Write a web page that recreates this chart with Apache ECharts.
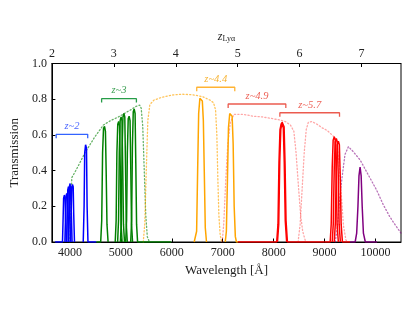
<!DOCTYPE html>
<html><head><meta charset="utf-8">
<script src="https://cdn.jsdelivr.net/npm/echarts@6/dist/echarts.min.js"></script>
<style>html,body{margin:0;padding:0;background:#fff}#c{width:415px;height:312px}</style>
</head><body><div id="c"></div><script>
const LYA = 1215.67;
const LAM_MIN = 3647, LAM_MAX = 10500;
const xTicks = [4000,5000,6000,7000,8000,9000,10000];
const zTicks = [2,3,4,5,6,7];

// narrow-band filters (wavelength, transmission)
const blue1 = [[3710,0],[3855,0],[3867,0.13],[3877,0.245],[3892,0.263],[3906,0.25],[3916,0.13],[3930,0]];
const blue2 = [[3902,0],[3914,0.13],[3924,0.255],[3938,0.272],[3952,0.26],[3962,0.13],[3976,0]];
const blue3 = [[3936,0],[3948,0.15],[3958,0.29],[3972,0.31],[3986,0.298],[3996,0.15],[4010,0]];
const blue4 = [[3968,0],[3980,0.16],[3990,0.31],[4005,0.328],[4019,0.318],[4029,0.16],[4043,0]];
const blue5 = [[4014,0],[4026,0.16],[4036,0.305],[4051,0.322],[4065,0.31],[4075,0.16],[4090,0]];
const blue6 = [[4262,0],[4279,0.2],[4291,0.5],[4308,0.545],[4326,0.525],[4338,0.2],[4355,0],[4520,0]];

const green1 = [[4520,0],[4605,0],[4625,0.12],[4642,0.5],[4660,0.635],[4680,0.648],[4698,0.62],[4712,0.4],[4728,0.1],[4750,0]];
const green2 = [[4890,0],[4908,0.12],[4923,0.5],[4940,0.66],[4958,0.675],[4976,0.65],[4990,0.4],[5005,0.1],[5025,0]];
const green3 = [[4937,0],[4955,0.12],[4970,0.5],[4987,0.68],[5005,0.70],[5023,0.68],[5037,0.42],[5052,0.1],[5072,0]];
const green4 = [[4992,0],[5010,0.12],[5025,0.52],[5042,0.70],[5060,0.72],[5078,0.70],[5092,0.43],[5107,0.1],[5127,0]];
const green5 = [[5095,0],[5113,0.12],[5128,0.5],[5145,0.69],[5163,0.705],[5181,0.68],[5195,0.42],[5210,0.1],[5230,0]];
const green6 = [[5194,0],[5212,0.12],[5227,0.53],[5244,0.73],[5262,0.745],[5280,0.72],[5294,0.44],[5309,0.1],[5329,0],[5990,0]];

const orange1 = [[6440,0],[6465,0],[6488,0.06],[6508,0.4],[6528,0.72],[6552,0.805],[6575,0.815],[6600,0.79],[6620,0.68],[6638,0.4],[6658,0.08],[6682,0]];
const orange2 = [[7050,0],[7072,0.06],[7093,0.35],[7113,0.64],[7138,0.72],[7160,0.73],[7185,0.705],[7205,0.55],[7225,0.2],[7248,0.03],[7270,0],[7300,0]];

const red1 = [[7300,0],[8060,0],[8085,0.1],[8105,0.45],[8125,0.63],[8150,0.665],[8170,0.67],[8190,0.64],[8208,0.45],[8228,0.12],[8255,0]];
const red2 = [[8075,0],[8100,0.1],[8120,0.45],[8140,0.63],[8165,0.672],[8185,0.675],[8205,0.645],[8223,0.45],[8243,0.12],[8270,0],[9000,0]];
const red3 = [[9000,0],[9110,0],[9130,0.1],[9150,0.42],[9168,0.57],[9190,0.59],[9210,0.57],[9226,0.4],[9245,0.1],[9270,0]];
const red4 = [[9150,0],[9170,0.1],[9190,0.42],[9208,0.56],[9230,0.58],[9250,0.56],[9266,0.4],[9285,0.1],[9310,0]];
const red5 = [[9190,0],[9210,0.1],[9230,0.4],[9248,0.545],[9270,0.565],[9290,0.545],[9306,0.38],[9325,0.1],[9350,0],[9500,0]];

const purple1 = [[9500,0],[9600,0],[9630,0.05],[9655,0.2],[9675,0.37],[9697,0.42],[9718,0.37],[9738,0.2],[9762,0.05],[9800,0],[10030,0]];

// broad-band filters (dotted)
const greenBroad = [[4000,0],[4020,0.15],[4037,0.36],[4135,0.41],[4297,0.50],[4492,0.59],[4656,0.655],[4800,0.68],[4949,0.70],[5100,0.725],[5209,0.743],[5300,0.76],[5370,0.767],[5400,0.75],[5430,0.65],[5460,0.4],[5490,0.15],[5520,0.03],[5560,0]];
const orangeBroad = [[5440,0],[5470,0.1],[5500,0.4],[5530,0.68],[5570,0.77],[5650,0.795],[5800,0.81],[6000,0.823],[6200,0.828],[6400,0.825],[6600,0.815],[6750,0.795],[6820,0.78],[6860,0.74],[6885,0.6],[6905,0.35],[6925,0.15],[6950,0.04],[6980,0]];
const redBroad1 = [[6990,0],[7020,0.1],[7060,0.35],[7100,0.55],[7150,0.67],[7220,0.715],[7400,0.715],[7600,0.705],[7800,0.70],[8000,0.69],[8136,0.683],[8233,0.674],[8330,0.655],[8397,0.62],[8440,0.5],[8490,0.3],[8530,0.15],[8570,0.06],[8630,0]];
const redBroad2 = [[8480,0],[8520,0.1],[8560,0.3],[8600,0.5],[8640,0.63],[8680,0.67],[8750,0.675],[8850,0.66],[8950,0.64],[9050,0.625],[9144,0.60],[9200,0.585],[9242,0.555],[9280,0.45],[9320,0.3],[9371,0.09],[9420,0.01],[9460,0]];
const purpleBroad = [[9209,0],[9250,0.08],[9300,0.25],[9342,0.36],[9400,0.49],[9468,0.534],[9550,0.51],[9697,0.46],[9850,0.38],[10023,0.29],[10150,0.21],[10283,0.14],[10400,0.09],[10478,0.058],[10500,0.05]];

// redshift brackets
const bracketLabels = ['z~2','z~3','z~4.4','z~4.9','z~5.7'];
const bracketStart = [3731,4623,6490,7107,8122];
const bracketEnd   = [4350,5306,7237,8239,9293];
const bracketLevel = [0.603,0.803,0.867,0.773,0.724];
const bracketColors = ['rgba(0,60,255,0.8)','rgba(0,140,40,0.85)','rgba(255,160,0,0.8)','rgba(230,50,35,0.8)','rgba(230,50,35,0.8)'];
const bracketTextColors = ['#1a3cff','#0e8a2a','#f5a000','#e8382a','#e8382a'];

const SERIF = '"Liberation Serif","Times New Roman",serif';
const series = [];
function addLine(data, color, dotted, w){
  series.push({type:'line', data:data, showSymbol:false, silent:true, animation:false,
    xAxisIndex:0, yAxisIndex:0, z: dotted?2:3,
    lineStyle:{color:color, width:w, type: dotted?[1.2,2.2]:'solid', cap: dotted?'round':'butt'}});
}
[[greenBroad,'rgba(0,128,0,0.6)'],[orangeBroad,'rgba(255,165,0,0.65)'],[redBroad1,'rgba(255,0,0,0.35)'],[redBroad2,'rgba(255,0,0,0.35)'],[purpleBroad,'rgba(128,0,128,0.55)']]
  .forEach(p=>addLine(p[0],p[1],true,1.3));
[blue1,blue2,blue3,blue4,blue5,blue6].forEach(d=>addLine(d,'#0000ff',false,1.5));
[green1,green2,green3,green4,green5,green6].forEach(d=>addLine(d,'#008000',false,1.5));
[orange1,orange2].forEach(d=>addLine(d,'#ffa500',false,1.5));
[red1,red2,red3,red4,red5].forEach(d=>addLine(d,'#ff0000',false,1.5));
[purple1].forEach(d=>addLine(d,'#800080',false,1.5));

const TICKH = 0.022;
bracketLabels.forEach((lab,i)=>{
  const y = bracketLevel[i];
  series.push({type:'line', data:[[bracketStart[i],y-TICKH],[bracketStart[i],y],[bracketEnd[i],y],[bracketEnd[i],y-TICKH]],
    showSymbol:false, silent:true, animation:false, z:4,
    lineStyle:{color:bracketColors[i], width:1.3}});
  series.push({type:'scatter', data:[[(bracketStart[i]+bracketEnd[i])/2, y]], symbolSize:1, silent:true, animation:false, z:5,
    itemStyle:{color:'rgba(0,0,0,0)'},
    label:{show:true, position:'top', distance:2, formatter:lab, color:bracketTextColors[i],
      fontFamily:SERIF, fontStyle:'italic', fontSize:10.5}});
});

const chart = echarts.init(document.getElementById('c'), null, {renderer:'canvas'});
chart.setOption({
  animation:false,
  backgroundColor:'#fff',
  grid:{left:50, right:14, top:63.5, bottom:70, show:true, borderColor:'#000', borderWidth:1, backgroundColor:'rgba(0,0,0,0)'},
  xAxis:[{
    type:'value', position:'bottom', min:LAM_MIN, max:LAM_MAX,
    name:'Wavelength [Å]', nameLocation:'middle', nameGap:19,
    nameTextStyle:{fontFamily:SERIF, fontSize:13, color:'#222'},
    axisLine:{show:true, lineStyle:{color:'#000', width:1}},
    axisTick:{show:true, inside:true, length:3.5, customValues:xTicks, lineStyle:{color:'#000'}},
    axisLabel:{customValues:xTicks, fontFamily:SERIF, fontSize:12, color:'#222', margin:5, formatter:v=>String(v)},
    splitLine:{show:false}
  },{
    type:'value', position:'top', min:LAM_MIN/LYA-1, max:LAM_MAX/LYA-1,
    name:'{i|z}{s|Lyα}', nameLocation:'middle', nameGap:17,
    nameTextStyle:{rich:{i:{fontFamily:SERIF, fontStyle:'italic', fontSize:12, color:'#222', verticalAlign:'top', lineHeight:12},
                         s:{fontFamily:SERIF, fontSize:8, color:'#222', verticalAlign:'bottom', lineHeight:8, padding:[5,0,0,0]}}},
    axisLine:{show:true, lineStyle:{color:'#000', width:1}},
    axisTick:{show:true, inside:true, length:3.5, customValues:zTicks, lineStyle:{color:'#000'}},
    axisLabel:{customValues:zTicks, fontFamily:SERIF, fontSize:12, color:'#222', margin:4, formatter:v=>String(Math.round(v))},
    splitLine:{show:false}
  }],
  yAxis:[{
    type:'value', min:0, max:1, interval:0.2,
    name:'Transmission', nameLocation:'middle', nameGap:29,
    nameTextStyle:{fontFamily:SERIF, fontSize:13, color:'#222'},
    axisLine:{show:true, lineStyle:{color:'#000', width:1}},
    axisTick:{show:true, inside:true, length:3.5, lineStyle:{color:'#000'}},
    axisLabel:{fontFamily:SERIF, fontSize:12, color:'#222', margin:5, formatter:v=>v.toFixed(1)},
    splitLine:{show:false}
  }],
  series:series
});
</script></body></html>
